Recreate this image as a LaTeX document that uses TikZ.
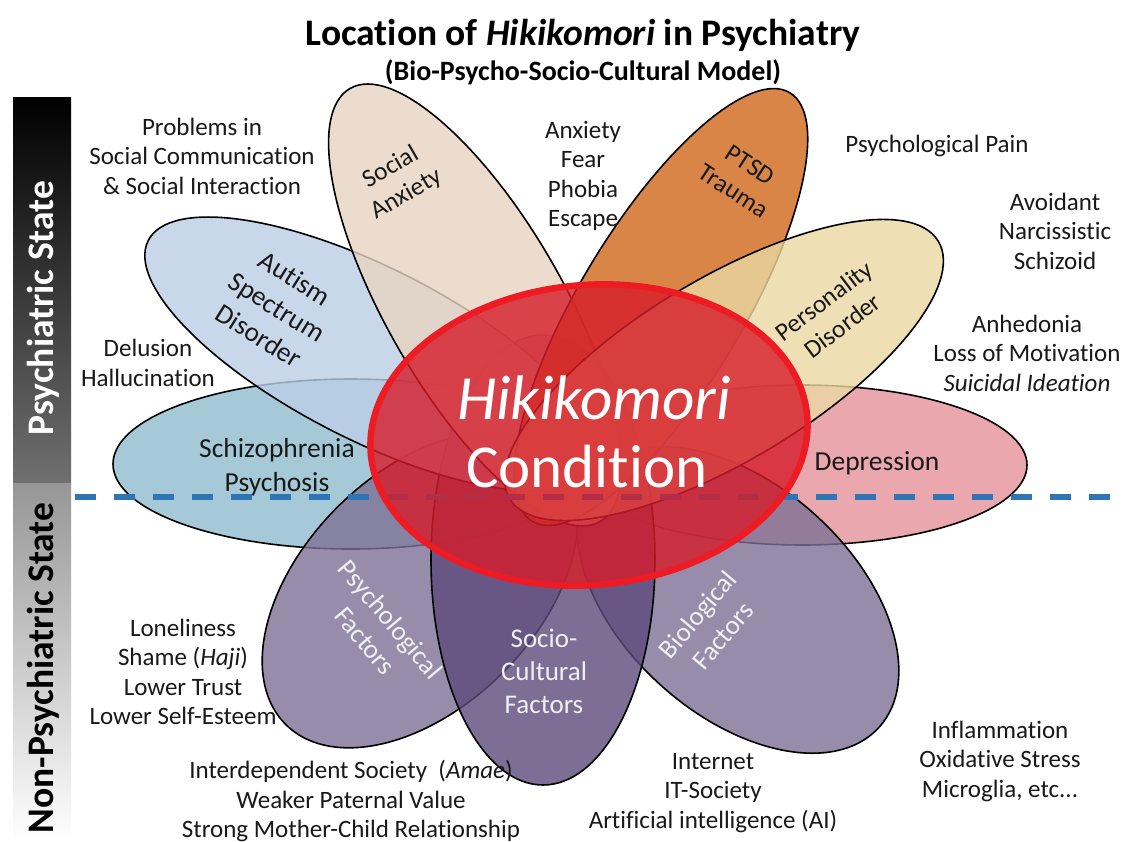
\documentclass[tikz,border=0pt]{standalone}
\usepackage{fontspec}
\setmainfont{Carlito}[Ligatures={TeX,CommonOff}]
\definecolor{cSoc}{RGB}{232,212,193}
\definecolor{cAut}{RGB}{188,206,231}
\definecolor{cSch}{RGB}{143,188,205}
\definecolor{cPts}{RGB}{208,103,25}
\definecolor{cPer}{RGB}{235,216,163}
\definecolor{cDep}{RGB}{230,145,154}
\definecolor{cPsy}{RGB}{126,113,149}
\definecolor{cScf}{RGB}{93,74,124}
\definecolor{cBio}{RGB}{126,113,149}
\definecolor{cRedFill}{RGB}{214,28,42}
\definecolor{cRedLine}{RGB}{237,28,36}
\definecolor{cDash}{RGB}{46,117,182}
\definecolor{cBarTop}{RGB}{0,0,0}
\definecolor{cBarMid}{RGB}{112,112,112}
\definecolor{cBarLow}{RGB}{150,150,150}
\definecolor{cTxt}{RGB}{25,25,25}
\begin{document}
\begin{tikzpicture}[x=1pt,y=-1pt,
  petal/.style={draw=black, line width=1.6pt, fill opacity=0.8},
  outer/.style={font=\fontsize{25}{29.5}\selectfont, align=center, text=cTxt, inner sep=0pt},
  inlbl/.style={font=\fontsize{27.5}{34}\selectfont, align=center, text=cTxt, inner sep=0pt},
  smlbl/.style={font=\fontsize{25.5}{31}\selectfont, align=center, text=cTxt, inner sep=0pt},
  wlbl/.style={font=\fontsize{27}{33}\selectfont, align=center, text=white!94!black, inner sep=0pt},
  side/.style={font=\bfseries\fontsize{37.5}{40}\selectfont, rotate=90, inner sep=0pt}]
\useasboundingbox (0,0) rectangle (1124,841);
\fill[white] (0,0) rectangle (1124,841);
% side bars
\shade[top color=cBarTop, bottom color=cBarMid] (13,97) rectangle (71,483);
\shade[top color=cBarLow, bottom color=white] (13,483) rectangle (71,841);
% petals
\draw[petal, fill=cSch] (351,464) ellipse [x radius=238, y radius=85];
\draw[petal, fill=cDep] (802,465) ellipse [x radius=225, y radius=80];
\draw[petal, fill=cPsy, rotate around={45:(420,590)}] (420,590) ellipse [x radius=190, y radius=117];
\draw[petal, fill=cBio, rotate around={-42:(738,600)}] (738,600) ellipse [x radius=190, y radius=115];
\draw[petal, fill=cScf] (543,560) ellipse [x radius=112, y radius=225];
\draw[petal, fill=cAut, rotate around={-27:(371,354)}] (371,354) ellipse [x radius=250, y radius=86];
\draw[petal, fill=cSoc, rotate around={120:(475,305)}] (475,305) ellipse [x radius=250, y radius=88];
\draw[petal, fill=cPts, rotate around={59:(661,307)}] (661,307) ellipse [x radius=250, y radius=82];
\draw[petal, fill=cPer, rotate around={31:(724,370)}] (724,370) ellipse [x radius=250, y radius=91];
% dashed separation line
\coordinate (dl) at (75,497);
\coordinate (dr) at (1118,497);
\draw[cDash, line width=5.5pt, dash pattern=on 21pt off 18pt] (dl) -- (dr);
% central ellipse
\draw[draw=cRedLine, line width=6.5pt, fill=cRedFill, fill opacity=0.8, rotate around={5:(589,435)}] (589,435) ellipse [x radius=219, y radius=150];
% titles
\node[font=\bfseries\fontsize{37.5}{42}\selectfont, inner sep=0pt] (title) at (583,35) {Location of \textit{Hikikomori} in Psychiatry};
\node[font=\bfseries\fontsize{28}{32}\selectfont, inner sep=0pt] (subtitle) at (583,72) {(Bio-Psycho-Socio-Cultural Model)};
% side labels
\node[side, text=white] (psy) at (43,308) {Psychiatric State};
\node[side, text=black] (nonpsy) at (43,668) {Non-Psychiatric State};
% central labels
\node[font=\itshape\fontsize{63}{66}\selectfont, text=white, inner sep=0pt] (hiki) at (594,398) {Hikikomori};
\node[font=\fontsize{61}{64}\selectfont, text=white, inner sep=0pt] (cond) at (587,467) {Condition};
% petal labels
\node[smlbl, rotate=30] (socanx) at (399,181) {Social\\Anxiety};
\node[inlbl, rotate=-32] (autism) at (277,307) {Autism\\Spectrum\\Disorder};
\node[inlbl] (schizo) at (277,467) {Schizophrenia\\Psychosis};
\node[smlbl, rotate=-33] (ptsd) at (742,178) {PTSD\\Trauma};
\node[smlbl, rotate=37] (pers) at (833,313) {Personality\\Disorder};
\node[inlbl] (dep) at (877,463) {Depression};
\node[wlbl, rotate=-50] (psyf) at (378,630) {Psychological\\Factors};
\node[wlbl] (socf) at (544,671) {Socio-\\Cultural\\Factors};
\node[wlbl, rotate=50] (biof) at (710,625) {Biological\\Factors};
% outer labels
\node[outer] (o1) at (202,156) {Problems in\\Social Communication\\\& Social Interaction};
\node[outer] (o2) at (583,176) {Anxiety\\Fear\\Phobia\\Escape};
\node[outer] (o3) at (937,146) {Psychological Pain};
\node[outer] (o4) at (1055,231) {Avoidant\\Narcissistic\\Schizoid};
\node[outer] (o5) at (1027,353) {Anhedonia\\Loss of Motivation\\\textit{Suicidal Ideation}};
\node[outer] (o6) at (148,363) {Delusion\\Hallucination};
\node[outer] (o7) at (183,672) {Loneliness\\Shame (\textit{Haji})\\Lower Trust\\Lower Self-Esteem};
\node[outer] (o8) at (351,801) {Interdependent Society~~(\textit{Amae})\\Weaker Paternal Value\\Strong Mother-Child Relationship};
\node[outer] (o9) at (713,793) {Internet\\IT-Society\\Artificial intelligence (AI)};
\node[outer] (o10) at (1000,761) {Inflammation\\Oxidative Stress\\Microglia, etc...};
\end{tikzpicture}
\end{document}
